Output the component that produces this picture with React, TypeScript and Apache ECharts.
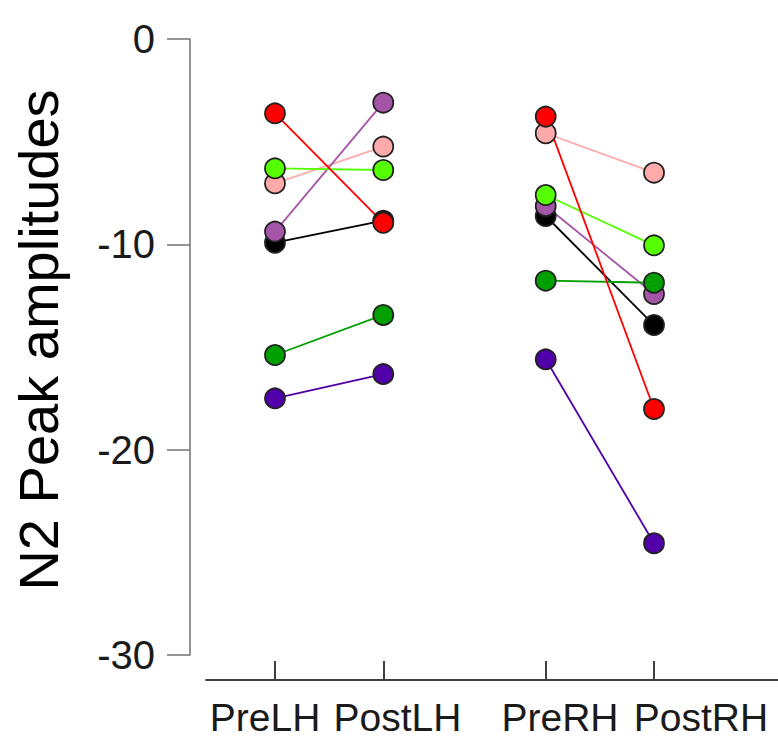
import React, { useEffect, useRef } from "react";
import * as echarts from "echarts";

const categories = ["PreLH", "PostLH", "PreRH", "PostRH"];
const catPositions = [1, 2, 3.5, 4.5];
const labelPositions = [0.908, 2.131, 3.632, 4.934];

// subjects in drawing order (bottom to top)
const subjects = ["black", "pink", "purple", "indigo", "green", "lightgreen", "red"];
const subjectColors = ["#000000", "#FFAAAA", "#A455A8", "#5000A8", "#00A000", "#55FF00", "#FF0000"];

const preLH = [-9.92, -7.03, -9.38, -17.5, -15.39, -6.3, -3.62];
const postLH = [-8.85, -5.24, -3.1, -16.32, -13.44, -6.38, -8.95];
const preRH = [-8.62, -4.59, -8.13, -15.6, -11.77, -7.6, -3.78];
const postRH = [-13.93, -6.51, -12.42, -24.56, -11.87, -10.05, -18.02];

const FONT = "Liberation Sans";

export default function App() {
  const ref = useRef<HTMLDivElement>(null);
  useEffect(() => {
    if (!ref.current) return;
    const chart = echarts.init(ref.current, null, { renderer: "svg" });
    const series: any[] = [];
    subjects.forEach((name, i) => {
      const common = {
        type: "line",
        symbol: "circle",
        symbolSize: 20,
        clip: false,
        silent: true,
        itemStyle: { color: subjectColors[i], borderColor: "#222222", borderWidth: 1.8 },
        lineStyle: { color: subjectColors[i], width: 1.8 },
        emphasis: { disabled: true },
      };
      series.push({
        ...common,
        name: name + "-LH",
        data: [
          [catPositions[0], preLH[i]],
          [catPositions[1], postLH[i]],
        ],
      });
      series.push({
        ...common,
        name: name + "-RH",
        data: [
          [catPositions[2], preRH[i]],
          [catPositions[3], postRH[i]],
        ],
      });
    });
    chart.setOption({
      animation: false,
      backgroundColor: "#ffffff",
      grid: { left: 206, right: 0, top: 39, bottom: 95 },
      xAxis: {
        type: "value",
        min: 0.363,
        max: 5.645,
        position: "bottom",
        offset: 25,
        splitLine: { show: false },
        axisLine: { show: true, onZero: false, lineStyle: { color: "#404040", width: 2 } },
        axisTick: {
          show: true,
          inside: true,
          length: 19,
          customValues: catPositions,
          lineStyle: { color: "#404040", width: 2 },
        },
        axisLabel: {
          show: true,
          customValues: labelPositions,
          showMinLabel: true,
          showMaxLabel: true,
          hideOverlap: false,
          margin: 18,
          fontSize: 39,
          fontFamily: FONT,
          color: "#1a1a1a",
          formatter: (v: number) => {
            const idx = labelPositions.findIndex((p) => Math.abs(p - v) < 1e-6);
            return idx >= 0 ? categories[idx] : "";
          },
        },
      },
      yAxis: {
        type: "value",
        min: -30,
        max: 0,
        interval: 10,
        offset: 16,
        splitLine: { show: false },
        axisLine: { show: true, onZero: false, lineStyle: { color: "#7a7a7a", width: 1.6 } },
        axisTick: { show: true, inside: false, length: 23, lineStyle: { color: "#7a7a7a", width: 1.6 } },
        axisLabel: {
          show: true,
          margin: 35,
          fontSize: 40,
          fontFamily: FONT,
          color: "#1a1a1a",
          showMinLabel: true,
          showMaxLabel: true,
        },
      },
      graphic: [
        {
          type: "text",
          x: 38,
          y: 340,
          rotation: Math.PI / 2,
          style: {
            text: "N2 Peak amplitudes",
            fontSize: 56,
            fontFamily: FONT,
            fill: "#000000",
            align: "center",
            verticalAlign: "middle",
          },
        },
      ],
      series,
    });
    return () => chart.dispose();
  }, []);
  return (
    <div
      ref={ref}
      style={{ position: "fixed", left: 0, top: 0, width: 778, height: 750, background: "#fff" }}
    />
  );
}
